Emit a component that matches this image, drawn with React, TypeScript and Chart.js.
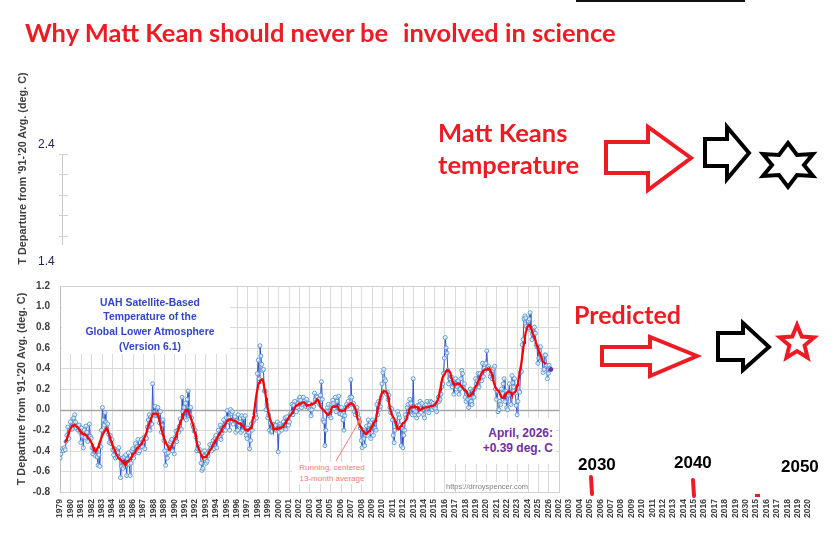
import { useEffect, useRef } from 'react';
import { Chart, registerables } from 'chart.js';

Chart.register(...registerables);

// ---------- DATA ----------
const FIRST_YEAR = 1979;
const PLOT_END_YEAR = 2027; // right edge of the original plot box

// x-axis labels exactly as they appear (the meme extended the axis)
const X_LABELS = [
  '1979', '1980', '1981', '1982', '1983', '1984', '1985', '1986', '1987', '1988',
  '1989', '1990', '1991', '1992', '1993', '1994', '1995', '1996', '1997', '1998',
  '1999', '2000', '2001', '2002', '2003', '2004', '2005', '2006', '2007', '2008',
  '2009', '2010', '2011', '2012', '2013', '2014', '2015', '2016', '2017', '2018',
  '2019', '2020', '2021', '2022', '2023', '2024', '2025', '2026',
  '2002', '2003', '2004', '2005', '2006', '2007', '2008', '2009', '2010', '2011',
  '2012', '2013', '2014', '2015', '2016', '2017', '2018', '2019', '2030',
  '2015', '2016', '2017', '2018', '2019', '2020',
];

const Y_TICKS = [-0.8, -0.6, -0.4, -0.2, 0.0, 0.2, 0.4, 0.6, 0.8, 1.0, 1.2];

// UAH monthly global lower-troposphere anomaly (deg C), Jan 1979 .. Apr 2026
const MONTHLY_ANOMALY = [
  -0.47, -0.43, -0.40, -0.38, -0.40, -0.37, -0.39, -0.31, -0.25, -0.17, -0.28, -0.20, // 1979
  -0.12, -0.17, -0.19, -0.09, -0.08, -0.05, -0.12, -0.18, -0.16, -0.20, -0.15, -0.22, // 1980
  -0.32, -0.18, -0.26, -0.37, -0.20, -0.27, -0.16, -0.22, -0.31, -0.27, -0.14, -0.26, // 1981
  -0.28, -0.37, -0.43, -0.38, -0.41, -0.45, -0.40, -0.46, -0.54, -0.44, -0.55, -0.36, // 1982
  -0.20, 0.02, -0.10, -0.15, -0.03, -0.12, -0.18, -0.14, -0.24, -0.32, -0.25, -0.33, // 1983
  -0.29, -0.39, -0.44, -0.38, -0.47, -0.41, -0.46, -0.42, -0.37, -0.47, -0.66, -0.55, // 1984
  -0.47, -0.57, -0.46, -0.55, -0.44, -0.64, -0.48, -0.42, -0.53, -0.64, -0.52, -0.40, // 1985
  -0.38, -0.47, -0.43, -0.33, -0.38, -0.36, -0.29, -0.42, -0.40, -0.36, -0.29, -0.36, // 1986
  -0.31, -0.27, -0.38, -0.27, -0.28, -0.17, -0.10, -0.05, -0.20, -0.07, -0.14, 0.25, // 1987
  -0.05, -0.03, 0.03, -0.06, -0.05, 0.02, -0.04, -0.13, -0.02, -0.22, -0.15, -0.10, // 1988
  -0.30, -0.40, -0.54, -0.43, -0.47, -0.42, -0.38, -0.33, -0.31, -0.29, -0.40, -0.34, // 1989
  -0.43, -0.27, -0.21, -0.31, -0.20, -0.22, -0.16, -0.09, -0.19, 0.12, -0.02, 0.02, // 1990
  -0.08, 0.06, -0.10, 0.10, 0.18, -0.06, -0.05, 0.02, -0.08, -0.14, -0.17, -0.21, // 1991
  -0.20, -0.27, -0.40, -0.38, -0.33, -0.40, -0.39, -0.52, -0.59, -0.57, -0.45, -0.40, // 1992
  -0.48, -0.52, -0.50, -0.45, -0.40, -0.34, -0.38, -0.40, -0.33, -0.30, -0.38, -0.28, // 1993
  -0.25, -0.37, -0.28, -0.20, -0.26, -0.15, -0.29, -0.23, -0.18, -0.10, -0.15, -0.20, // 1994
  -0.08, -0.01, -0.12, -0.08, -0.20, 0.00, -0.04, -0.02, -0.14, -0.10, -0.07, -0.22, // 1995
  -0.11, -0.20, -0.05, -0.15, -0.12, -0.22, -0.06, -0.20, -0.08, -0.18, -0.06, -0.25, // 1996
  -0.28, -0.18, -0.22, -0.38, -0.30, -0.14, -0.20, -0.12, -0.10, -0.04, -0.05, -0.08, // 1997
  0.35, 0.48, 0.30, 0.62, 0.52, 0.44, 0.38, 0.39, 0.18, 0.18, 0.00, 0.05, // 1998
  -0.08, -0.05, -0.20, -0.13, -0.22, -0.21, -0.14, -0.18, -0.16, -0.15, -0.20, -0.12, // 1999
  -0.41, -0.22, -0.14, -0.16, -0.20, -0.17, -0.12, -0.15, -0.08, -0.19, -0.07, -0.12, // 2000
  -0.15, -0.12, -0.05, -0.03, 0.05, -0.05, 0.04, 0.08, 0.00, -0.02, 0.02, 0.06, // 2001
  0.10, 0.12, 0.09, 0.02, 0.05, 0.12, 0.08, 0.05, 0.03, 0.10, 0.06, 0.02, // 2002
  0.06, 0.00, -0.06, 0.00, 0.04, 0.03, 0.16, 0.10, 0.13, 0.12, 0.07, 0.10, // 2003
  0.05, 0.14, 0.27, 0.10, -0.10, -0.12, -0.35, -0.20, -0.02, 0.02, 0.05, -0.06, // 2004
  -0.02, -0.08, 0.05, 0.09, 0.06, 0.01, 0.12, -0.02, 0.08, 0.02, 0.13, -0.04, // 2005
  -0.04, 0.02, -0.05, -0.10, -0.20, -0.06, 0.02, 0.05, 0.03, 0.08, 0.04, 0.12, // 2006
  0.29, 0.12, 0.05, 0.06, -0.02, -0.05, 0.00, 0.02, -0.04, -0.08, -0.12, -0.18, // 2007
  -0.30, -0.37, -0.20, -0.28, -0.35, -0.25, -0.16, -0.25, -0.10, -0.15, -0.20, -0.28, // 2008
  -0.22, -0.10, -0.25, -0.12, -0.18, -0.20, 0.05, -0.05, 0.08, 0.00, 0.03, 0.12, // 2009
  0.25, 0.36, 0.39, 0.30, 0.28, 0.15, 0.17, 0.10, 0.14, 0.02, -0.03, 0.01, // 2010
  -0.10, -0.25, -0.32, -0.20, -0.12, -0.15, -0.02, -0.05, -0.08, -0.15, -0.35, -0.18, // 2011
  -0.37, -0.25, -0.20, -0.05, -0.08, 0.02, 0.05, -0.02, 0.10, 0.06, 0.02, -0.05, // 2012
  0.30, 0.00, -0.05, -0.02, -0.08, 0.04, -0.05, 0.04, 0.08, 0.01, 0.06, 0.00, // 2013
  -0.05, -0.08, 0.02, 0.05, 0.08, 0.02, -0.03, 0.05, 0.08, 0.07, 0.00, 0.06, // 2014
  0.02, 0.04, 0.01, -0.02, 0.07, 0.12, 0.08, 0.10, 0.15, 0.22, 0.25, 0.35, // 2015
  0.50, 0.70, 0.60, 0.55, 0.38, 0.25, 0.30, 0.30, 0.32, 0.22, 0.28, 0.15, // 2016
  0.25, 0.30, 0.20, 0.22, 0.28, 0.15, 0.20, 0.30, 0.38, 0.35, 0.22, 0.25, // 2017
  0.12, 0.08, 0.15, 0.10, 0.02, 0.12, 0.20, 0.08, 0.05, 0.18, 0.12, 0.20, // 2018
  0.30, 0.25, 0.28, 0.35, 0.22, 0.35, 0.30, 0.28, 0.45, 0.32, 0.40, 0.38, // 2019
  0.45, 0.57, 0.40, 0.42, 0.40, 0.32, 0.35, 0.30, 0.38, 0.40, 0.42, 0.20, // 2020
  0.10, 0.18, -0.02, 0.00, 0.08, 0.05, 0.20, 0.16, 0.25, 0.30, 0.08, 0.18, // 2021
  0.02, 0.00, 0.14, 0.25, 0.16, 0.05, 0.33, 0.26, 0.22, 0.30, 0.16, 0.04, // 2022
  -0.05, 0.08, 0.18, 0.17, 0.36, 0.37, 0.63, 0.68, 0.88, 0.91, 0.89, 0.81, // 2023
  0.79, 0.86, 0.88, 0.94, 0.77, 0.68, 0.73, 0.75, 0.80, 0.74, 0.63, 0.61, // 2024
  0.45, 0.50, 0.57, 0.61, 0.50, 0.48, 0.36, 0.39, 0.53, 0.53, 0.43, 0.30, // 2025
  0.35, 0.43, 0.40, 0.39, // 2026
];

const RUNNING_HALF_WINDOW = 6; // centered 13-month average

// ---------- STYLE ----------
const FONT = "'Liberation Sans', Arial, sans-serif";
const MEME_FONT = "Lato, 'Liberation Sans', sans-serif";
const MEME_RED = '#ed1c24';
const Y_TITLE = "T Departure from '91-'20 Avg. (deg. C)";

const gridPlugin = {
  id: 'uahGrid',
  beforeDatasetsDraw(chart: any) {
    const { ctx, scales } = chart;
    const x = scales.x;
    const y = scales.y;
    const x0 = Math.round(x.getPixelForValue(FIRST_YEAR)) + 0.5;
    const x1 = Math.round(x.getPixelForValue(PLOT_END_YEAR)) + 0.5;
    const yTop = Math.round(y.getPixelForValue(Y_TICKS[Y_TICKS.length - 1])) + 0.5;
    const yBot = Math.round(y.getPixelForValue(Y_TICKS[0])) + 0.5;
    ctx.save();
    ctx.lineWidth = 1;
    ctx.strokeStyle = '#d9d9d9';
    ctx.beginPath();
    for (let yr = FIRST_YEAR + 1; yr < PLOT_END_YEAR; yr++) {
      const px = Math.round(x.getPixelForValue(yr)) + 0.5;
      ctx.moveTo(px, yTop);
      ctx.lineTo(px, yBot);
    }
    for (const v of Y_TICKS) {
      if (v === 0) continue;
      const py = Math.round(y.getPixelForValue(v)) + 0.5;
      ctx.moveTo(x0, py);
      ctx.lineTo(x1, py);
    }
    ctx.stroke();
    ctx.strokeStyle = '#d0d0d0';
    ctx.strokeRect(x0, yTop, x1 - x0, yBot - yTop);
    ctx.strokeStyle = '#bfbfbf';
    ctx.beginPath();
    ctx.moveTo(x0, yTop);
    ctx.lineTo(x0, yBot);
    ctx.stroke();
    const pz = Math.round(y.getPixelForValue(0)) + 0.5;
    ctx.strokeStyle = '#a6a6a6';
    ctx.lineWidth = 1.5;
    ctx.beginPath();
    ctx.moveTo(x0, pz);
    ctx.lineTo(x1, pz);
    ctx.stroke();
    ctx.restore();
  },
};

function Txt(props: { left?: number; right?: number; top: number; size: number; color: string; bold?: boolean; family?: string; lh?: number; align?: any; width?: number; bg?: string; children: any }) {
  return (
    <div
      style={{
        position: 'absolute',
        left: props.left,
        right: props.right,
        top: props.top,
        width: props.width,
        fontFamily: props.family || FONT,
        fontSize: props.size,
        fontWeight: props.bold ? 700 : 400,
        color: props.color,
        lineHeight: (props.lh || props.size) + 'px',
        whiteSpace: 'pre',
        textAlign: props.align || 'left',
        background: props.bg,
      }}
    >
      {props.children}
    </div>
  );
}

function starPoints(cx: number, cy: number, n: number, rOut: number, rIn: number) {
  const pts: string[] = [];
  for (let i = 0; i < n * 2; i++) {
    const r = i % 2 === 0 ? rOut : rIn;
    const a = -Math.PI / 2 + (i * Math.PI) / n;
    pts.push(`${(cx + r * Math.cos(a)).toFixed(1)},${(cy + r * Math.sin(a)).toFixed(1)}`);
  }
  return pts.join(' ');
}

export default function App() {
  const canvasRef = useRef<HTMLCanvasElement>(null);

  useEffect(() => {
    document.body.style.margin = '0';
    const monthlyPts = MONTHLY_ANOMALY.map((v, i) => ({ x: FIRST_YEAR + i / 12, y: v }));
    const runningPts = MONTHLY_ANOMALY.map((_, i) => {
      if (i < RUNNING_HALF_WINDOW || i >= MONTHLY_ANOMALY.length - RUNNING_HALF_WINDOW) return { x: FIRST_YEAR + i / 12, y: null };
      const win = MONTHLY_ANOMALY.slice(i - RUNNING_HALF_WINDOW, i + RUNNING_HALF_WINDOW + 1);
      return { x: FIRST_YEAR + i / 12, y: win.reduce((a, b) => a + b, 0) / win.length };
    });
    const lastIdx = MONTHLY_ANOMALY.length - 1;

    const chart = new Chart(canvasRef.current as HTMLCanvasElement, {
      type: 'line',
      data: {
        datasets: [
          {
            data: runningPts as any,
            borderColor: '#ff0000',
            borderWidth: 2.2,
            pointRadius: 0,
            spanGaps: false,
            order: 0,
          },
          {
            data: monthlyPts,
            borderColor: '#3052c8',
            borderWidth: 1,
            pointRadius: 2,
            pointBorderWidth: 1,
            pointBorderColor: (c: any) => (c.dataIndex === lastIdx ? '#7030a0' : '#5b9bd5'),
            pointBackgroundColor: (c: any) => (c.dataIndex === lastIdx ? '#7030a0' : 'rgba(255,255,255,0.7)'),
            order: 1,
          },
        ],
      },
      options: {
        animation: false,
        responsive: false,
        devicePixelRatio: 1,
        layout: { padding: { left: 16, right: 31, top: 286, bottom: 0 } },
        plugins: { legend: { display: false }, tooltip: { enabled: false } },
        scales: {
          x: {
            type: 'linear',
            min: FIRST_YEAR,
            max: FIRST_YEAR + X_LABELS.length - 1,
            grid: { display: false, drawTicks: false },
            border: { display: false },
            afterBuildTicks: (s: any) => {
              s.ticks = X_LABELS.map((_, i) => ({ value: FIRST_YEAR + i }));
            },
            afterFit: (s: any) => {
              s.height = 43;
            },
            ticks: {
              autoSkip: false,
              minRotation: 90,
              maxRotation: 90,
              padding: 7,
              color: '#404040',
              font: { family: FONT, size: 8.5, weight: 'bold' },
              callback: (_v: any, i: number) => X_LABELS[i],
            },
          },
          y: {
            type: 'linear',
            min: Y_TICKS[0],
            max: Y_TICKS[Y_TICKS.length - 1],
            grid: { display: false, drawTicks: false },
            border: { display: false },
            afterBuildTicks: (s: any) => {
              s.ticks = Y_TICKS.map((v) => ({ value: v }));
            },
            afterFit: (s: any) => {
              s.width = 44;
            },
            ticks: {
              padding: 10,
              color: '#404040',
              font: { family: FONT, size: 10, weight: 'bold' },
              callback: (v: any) => Number(v).toFixed(1),
            },
            title: {
              display: true,
              text: Y_TITLE,
              padding: 0,
              color: '#404040',
              font: { family: FONT, size: 10.8, weight: 'bold' },
            },
          },
        },
      },
      plugins: [gridPlugin],
    });
    return () => chart.destroy();
  }, []);

  return (
    <div style={{ position: 'fixed', left: 0, top: 0, width: 839, height: 535, overflow: 'hidden', background: '#fff' }}>
      <canvas ref={canvasRef} width={839} height={535} style={{ position: 'absolute', left: 0, top: 0, display: 'block' }} />

      {/* white panels of the original chart */}
      <div style={{ position: 'absolute', left: 62, top: 287, width: 168, height: 67, background: '#fff' }} />
      <div style={{ position: 'absolute', left: 452, top: 418, width: 104, height: 46, background: '#fff' }} />

      <Txt left={50} width={200} top={295.6} size={10.4} lh={14.7} color="#3346c4" bold align="center">
        {'UAH Satellite-Based\nTemperature of the\nGlobal Lower Atmosphere\n(Version 6.1)'}
      </Txt>
      <Txt right={286} top={425.5} size={12} lh={15} color="#7030a0" bold align="right">
        {'April, 2026:\n+0.39 deg. C'}
      </Txt>
      <Txt left={292} width={80} top={461.5} size={8} lh={11} color="#f07c78" align="center" bg="#fff">
        {'Running, centered\n13-month average'}
      </Txt>
      <Txt left={446} top={481.5} size={7.5} lh={9} color="#808080" bg="#fff">
        {'https://drroyspencer.com'}
      </Txt>

      {/* upper pasted axis fragment */}
      <div
        style={{
          position: 'absolute',
          left: 22 - 100,
          top: 168 - 6.5,
          width: 200,
          height: 13,
          lineHeight: '13px',
          textAlign: 'center',
          fontFamily: FONT,
          fontWeight: 700,
          fontSize: 10.8,
          color: '#404040',
          transform: 'rotate(-90deg)',
          whiteSpace: 'nowrap',
        }}
      >
        {Y_TITLE}
      </div>
      <Txt left={38} top={138.4} size={12} color="#1f2050">{'2.4'}</Txt>
      <Txt left={38} top={255.4} size={12} color="#1f2050">{'1.4'}</Txt>

      {/* meme annotations */}
      <Txt left={25} top={19.5} size={25.5} color={MEME_RED} bold family={MEME_FONT}>{'Why Matt Kean should never be'}</Txt>
      <Txt left={403} top={19.5} size={25.5} color={MEME_RED} bold family={MEME_FONT}>{'involved in science'}</Txt>
      <Txt left={438} top={115.5} size={25.5} lh={32} color={MEME_RED} bold family={MEME_FONT}>{'Matt Keans\ntemperature'}</Txt>
      <Txt left={574} top={301.5} size={25} color={MEME_RED} bold family={MEME_FONT}>{'Predicted'}</Txt>
      <Txt left={578} top={455.8} size={17} color="#000" bold>{'2030'}</Txt>
      <Txt left={674} top={453.8} size={17} color="#000" bold>{'2040'}</Txt>
      <Txt left={781} top={457.8} size={17} color="#000" bold>{'2050'}</Txt>

      <svg width={839} height={535} style={{ position: 'absolute', left: 0, top: 0, pointerEvents: 'none' }}>
        <line x1={576} y1={1} x2={745} y2={1} stroke="#111" strokeWidth={2} />
        {/* upper axis line + ticks */}
        <line x1={62.5} y1={154} x2={62.5} y2={245} stroke="#c8c8c8" strokeWidth={1} />
        {[154, 174, 195, 215, 236].map((t) => (
          <line key={t} x1={59} y1={t + 0.5} x2={68} y2={t + 0.5} stroke="#d0d0d0" strokeWidth={1} />
        ))}
        {/* arrow from "Running" label */}
        <line x1={336} y1={461} x2={360} y2={420} stroke="#f07c78" strokeWidth={1} />
        <polygon points="361,417 356.5,422 360.5,424" fill="#f07c78" />

        <g fill="none" strokeWidth={4} strokeLinejoin="miter">
          <polygon points="606,142 648,142 648,127 691,158 648,190 648,173 606,173" stroke={MEME_RED} />
          <polygon points="705,139 727,139 727,127 749,153 727,179 727,166 705,166" stroke="#000" />
          <polygon
            points="788,143 797,155 813,154 804,165 813,176 797,175 788,187 779,175 763,176 772,165 763,154 779,155"
            stroke="#000"
          />
          <polygon points="602,347 650,347 650,337 697,356 650,376 650,365 602,365" stroke={MEME_RED} />
          <polygon points="718,333 743,333 743,323 769,347 743,370 743,360 718,360" stroke="#000" />
          <polygon points={starPoints(797, 343, 5, 18, 8)} stroke={MEME_RED} />
        </g>
        <line x1={591} y1={477} x2={592} y2={494} stroke={MEME_RED} strokeWidth={4} strokeLinecap="round" />
        <line x1={693} y1={480} x2={694} y2={496} stroke={MEME_RED} strokeWidth={4} strokeLinecap="round" />
        <rect x={755} y={494} width={5} height={3} fill={MEME_RED} />
      </svg>
    </div>
  );
}
